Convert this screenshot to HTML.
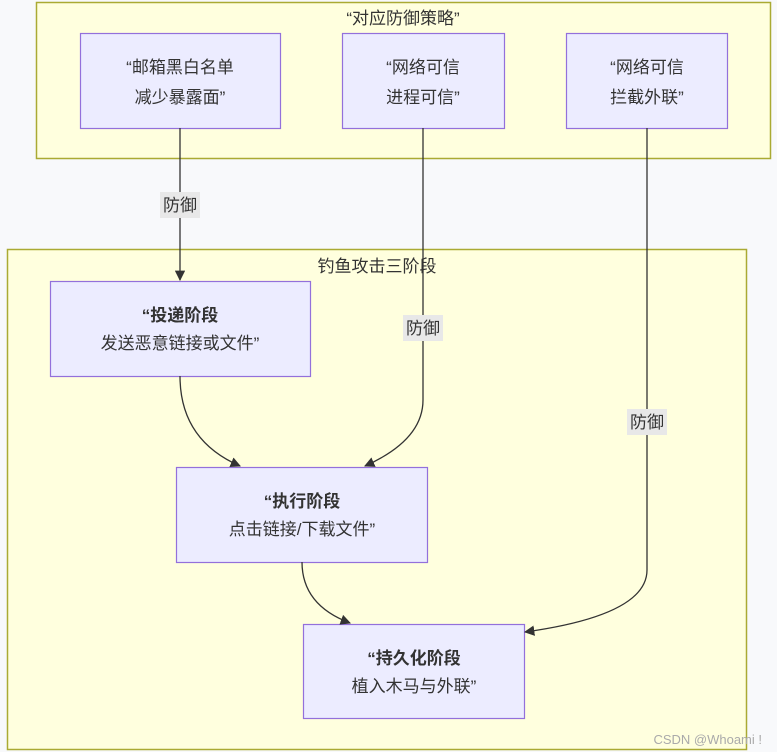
<!DOCTYPE html>
<html><head><meta charset="utf-8"><style>
html,body{margin:0;padding:0;background:#f8f9fb;}
svg{display:block}
text{font-family:"Liberation Sans","Noto Sans CJK SC",sans-serif;fill:#333;}
</style></head><body>
<svg width="777" height="752" viewBox="0 0 777 752" xmlns="http://www.w3.org/2000/svg">
<defs><marker id="a" viewBox="0 0 10 10" refX="9" refY="5" markerWidth="8" markerHeight="8" orient="auto"><path d="M0,0L10,5L0,10z" fill="#333"/></marker></defs>
<rect x="36.5" y="2.5" width="734" height="156" fill="#ffffde" stroke="#aaaa33" stroke-width="1.5"/>
<text x="403" y="24" text-anchor="middle" font-size="17">“对应防御策略”</text>
<rect x="7.5" y="249.5" width="739" height="500" fill="#ffffde" stroke="#aaaa33" stroke-width="1.5"/>
<text x="377" y="272" text-anchor="middle" font-size="17">钓鱼攻击三阶段</text>
<g fill="#ececff" stroke="#9370db" stroke-width="1.2">
<rect x="80.5" y="33.5" width="200" height="95"/>
<rect x="342.5" y="33.5" width="162" height="95"/>
<rect x="566.5" y="33.5" width="161" height="95"/>
<rect x="50.5" y="281.5" width="260" height="95"/>
<rect x="176.5" y="467.5" width="251" height="95"/>
<rect x="303.5" y="624.5" width="221" height="94"/>
</g>
<g font-size="17" text-anchor="middle">
<text x="180" y="73">“邮箱黑白名单</text><text x="180" y="103">减少暴露面”</text>
<text x="423" y="73">“网络可信</text><text x="423" y="103">进程可信”</text>
<text x="647" y="73">“网络可信</text><text x="647" y="103">拦截外联”</text>
<text x="180" y="321" font-weight="bold">“投递阶段</text><text x="180" y="349">发送恶意链接或文件”</text>
<text x="302" y="507" font-weight="bold">“执行阶段</text><text x="302" y="535">点击链接/下载文件”</text>
<text x="414" y="664" font-weight="bold">“持久化阶段</text><text x="414" y="692">植入木马与外联”</text>
</g>
<g fill="none" stroke="#333" stroke-width="1.3">
<path d="M180,128 L180,280" marker-end="url(#a)"/>
<path d="M423,128 L423,400 Q423,440 365,466" marker-end="url(#a)"/>
<path d="M647,128 L647,570 Q647,615 525,632" marker-end="url(#a)"/>
<path d="M180,376 Q180,440 240,466" marker-end="url(#a)"/>
<path d="M302,562 Q302,605 350,623" marker-end="url(#a)"/>
</g>
<g font-size="17" text-anchor="middle">
<rect x="160" y="192" width="40" height="26" fill="#e8e8e8"/><text x="180" y="211">防御</text>
<rect x="403" y="315" width="40" height="26" fill="#e8e8e8"/><text x="423" y="334">防御</text>
<rect x="627" y="409" width="40" height="26" fill="#e8e8e8"/><text x="647" y="428">防御</text>
</g>
<text x="762" y="744" text-anchor="end" font-size="13" style="fill:#aaa">CSDN @Whoami !</text>
</svg>
</body></html>
